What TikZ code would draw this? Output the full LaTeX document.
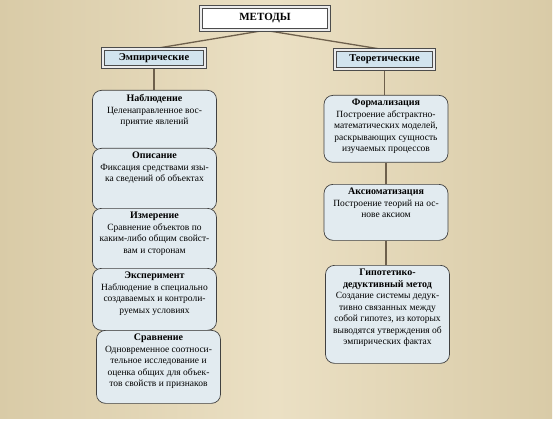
\documentclass[tikz,border=0pt]{standalone}
\usepackage{fontspec}
\setmainfont{Liberation Serif}
\usepackage{tikz}
\usetikzlibrary{positioning, backgrounds}
\definecolor{paper}{HTML}{D9CBA7}
\definecolor{paperlight}{HTML}{EBE0C4}
\definecolor{headfill}{HTML}{D2E4EE}
\definecolor{boxfill}{HTML}{E2EBF0}
\definecolor{linkcol}{HTML}{6E604C}
\newcommand{\boxtext}[2]{\parbox[b][#1][t]{118pt}{\centering #2}}

\begin{document}
\begin{tikzpicture}[
    x=1pt, y=-1pt,
    every node/.style={font=\fontsize{9.5pt}{11.5pt}\selectfont},
    header/.style={rectangle, draw=black!70, line width=0.6pt, double=white!85!gray, double distance=2.6pt, fill=headfill, inner sep=0pt, font=\fontsize{10.5pt}{12pt}\selectfont\bfseries},
    method/.style={rectangle, draw=black!75, fill=boxfill, line width=0.7pt, rounded corners=9pt, anchor=north, inner xsep=3pt, inner ysep=4pt},
    link/.style={draw=linkcol, line width=1.3pt}
]
    \useasboundingbox (0,0) rectangle (556,422);

    \node[header, fill=white, minimum width=128pt, minimum height=23pt, font=\fontsize{11pt}{13pt}\selectfont\bfseries] (metody) at (265,18.5) {МЕТОДЫ};
    \node[header, minimum width=102pt, minimum height=18pt] (emp) at (154,58) {Эмпирические};
    \node[header, minimum width=99pt, minimum height=19pt] (teor) at (384.5,59.5) {Теоретические};

    \node[method] (nabl) at (154.5,90) {\boxtext{52pt}{\textbf{\fontsize{10pt}{11.5pt}\selectfont Наблюдение}\\Целенаправленное вос-\\приятие явлений}};
    \node[method] (opis) at (154.5,148) {\boxtext{54pt}{\textbf{\fontsize{10pt}{11.5pt}\selectfont Описание}\\Фиксация средствами язы-\\ка сведений об объектах}};
    \node[method] (izm) at (154.5,208) {\boxtext{54pt}{\textbf{\fontsize{10pt}{11.5pt}\selectfont Измерение}\\Сравнение объектов по\\каким-либо общим свойст-\\вам и сторонам}};
    \node[method] (eksp) at (154.5,268) {\boxtext{54pt}{\textbf{\fontsize{10pt}{11.5pt}\selectfont Эксперимент}\\Наблюдение в специально\\создаваемых и контроли-\\руемых условиях}};
    \node[method] (sravn) at (158.5,330) {\boxtext{65pt}{\textbf{\fontsize{10pt}{11.5pt}\selectfont Сравнение}\\Одновременное соотноси-\\тельное исследование и\\оценка общих для объек-\\тов свойств и признаков}};

    \node[method] (form) at (386,95) {\boxtext{59pt}{\textbf{\fontsize{10pt}{11.5pt}\selectfont Формализация}\\Построение абстрактно-\\математических моделей,\\раскрывающих сущность\\изучаемых процессов}};
    \node[method] (aks) at (386,184) {\boxtext{48pt}{\textbf{\fontsize{10pt}{11.5pt}\selectfont Аксиоматизация}\\Построение теорий на ос-\\нове аксиом}};
    \node[method] (gip) at (387.5,265) {\boxtext{90pt}{\textbf{\fontsize{10pt}{11.5pt}\selectfont Гипотетико-\\дедуктивный метод}\\Создание системы дедук-\\тивно связанных между\\собой гипотез, из которых\\выводятся утверждения об\\эмпирических фактах}};

    \begin{pgfonlayer}{background}
        \fill[white] (0,0) rectangle (556,422);
        \shade[left color=paper, right color=paper, middle color=paperlight] (0,0) rectangle (552,418);
        \draw[link] (metody.south) -- (emp.north);
        \draw[link] (metody.south) -- (teor.north);
        \draw[link] (emp.south) -- (emp.south |- nabl.north);
        \draw[link] (teor.south) -- (teor.south |- form.north);
        \draw[link] (form.south) -- (aks.north);
        \draw[link] (aks.south) -- (aks.south |- gip.north);
    \end{pgfonlayer}
\end{tikzpicture}
\end{document}
